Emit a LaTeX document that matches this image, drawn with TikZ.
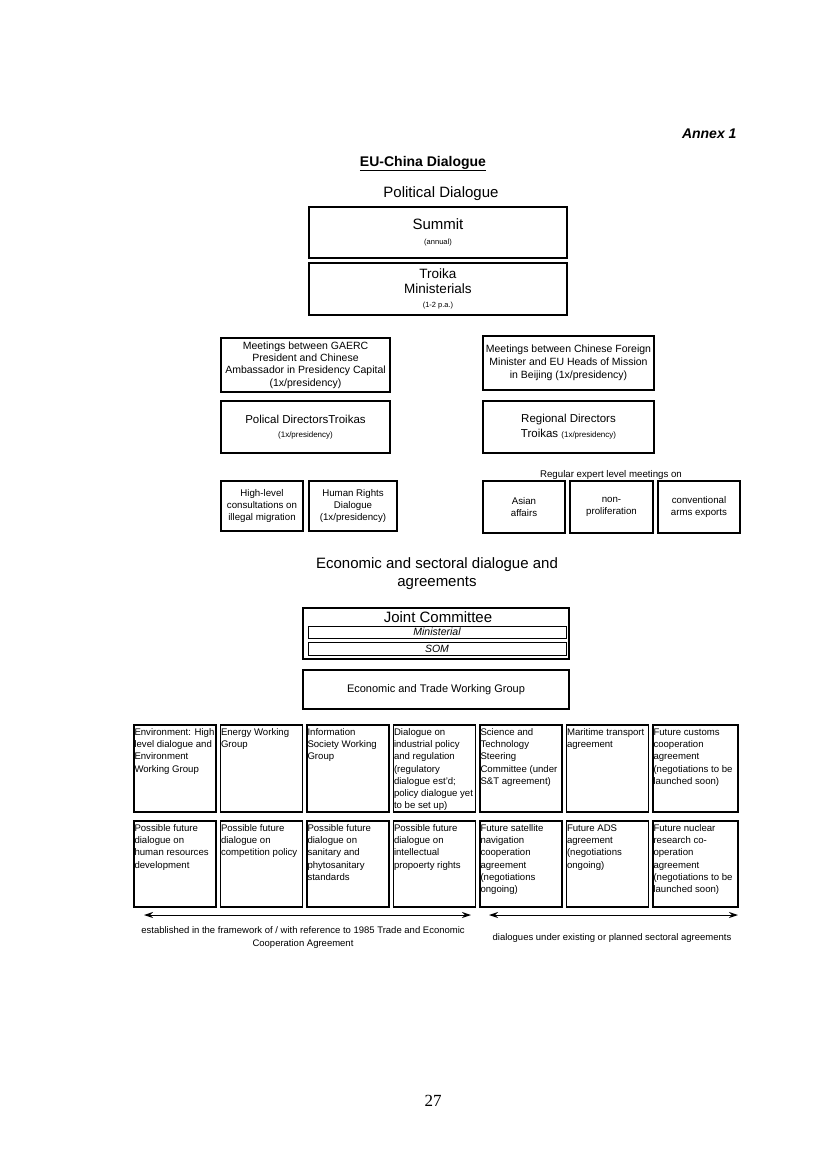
\documentclass[tikz,border=0pt]{standalone}
\usepackage{fontspec}
\setmainfont{Liberation Sans}
\newfontfamily\pnfont{Liberation Serif}
\usetikzlibrary{arrows.meta}
\newcommand\celltop{\vphantom{lb}}
\begin{document}
\begin{tikzpicture}[x=1pt,y=-1pt,
  box/.style={draw, line width=1.8pt, inner sep=0pt, align=center},
  bar/.style={draw, line width=1pt, inner sep=0pt, align=center, minimum width=258, font=\fontsize{10.5}{11}\selectfont\itshape},
  cell/.style={draw, line width=1.9pt, inner sep=0pt, minimum width=82, anchor=north west},
  celltext/.style={anchor=north west, inner xsep=1.3pt, inner ysep=4pt, align=left, font=\fontsize{9.6}{12.3}\selectfont},
  head/.style={font=\fontsize{15}{18}\selectfont, align=center},
  med/.style={font=\fontsize{10.5}{12.4}\selectfont},
  sml/.style={font=\fontsize{9.7}{12}\selectfont},
  note/.style={font=\fontsize{9.5}{13}\selectfont, align=center},
  span/.style={{Stealth[length=9pt,width=6pt]}-{Stealth[length=9pt,width=6pt]}, line width=1pt}
]
\useasboundingbox (0,0) rectangle (827,1163);

% headings
\node[anchor=east, font=\fontsize{14}{16}\selectfont\bfseries\itshape] (annex) at (740,134) {Annex 1};
\node[font=\fontsize{14}{16}\selectfont\bfseries] (title) at (423,163.5) {\underline{EU-China Dialogue}};
\node[head] (pol) at (441,194) {Political Dialogue};

% political dialogue
\node[box, minimum width=258, minimum height=51, font=\fontsize{15}{15.5}\selectfont] (summit) at (438,232.5)
  {Summit\\{\fontsize{7.5}{9}\selectfont (annual)}};
\node[box, minimum width=258, minimum height=52, font=\fontsize{13.5}{15}\selectfont] (troika) at (438,289)
  {Troika\\Ministerials\\[-1pt]{\fontsize{7.5}{10}\selectfont (1-2 p.a.)}};

\node[box, med, minimum width=169, minimum height=54] (gaerc) at (305.5,365)
  {Meetings between GAERC\\President and Chinese\\Ambassador in Presidency Capital\\(1x/presidency)};
\node[box, med, minimum width=171, minimum height=54, font=\fontsize{10.5}{13}\selectfont] (cfm) at (568.5,363)
  {Meetings between Chinese Foreign\\Minister and EU Heads of Mission\\in Beijing (1x/presidency)};

\node[box, minimum width=169, minimum height=52, font=\fontsize{11.5}{14}\selectfont] (pdt) at (305.5,427)
  {Polical DirectorsTroikas\\{\fontsize{8}{10}\selectfont (1x/presidency)}};
\node[box, minimum width=171, minimum height=52, font=\fontsize{11.5}{15}\selectfont] (rdt) at (568.5,427)
  {Regional Directors\\Troikas {\fontsize{8}{10}\selectfont (1x/presidency)}};

\node[box, sml, minimum width=82, minimum height=50] (hlc) at (262,506)
  {High-level\\consultations on\\illegal migration};
\node[box, sml, minimum width=88, minimum height=50] (hrd) at (353,506)
  {Human Rights\\Dialogue\\(1x/presidency)};

\node[font=\fontsize{9.7}{10}\selectfont] (regular) at (611,475) {Regular expert level meetings on};
\node[box, sml, minimum width=82, minimum height=52] (asian) at (524,507) {Asian\\affairs};
\node[box, sml, minimum width=83, minimum height=52] (nonp) at (611.5,507) {non-\\proliferation};
\node[box, sml, minimum width=82, minimum height=52] (conv) at (699,507) {conventional\\arms exports};

% economic
\node[head] (econ) at (437,574) {Economic and sectoral dialogue and\\agreements};
\node[box, minimum width=266, minimum height=51] (jc) at (436,633.5) {};
\node[font=\fontsize{15}{17}\selectfont] (jct) at (438,617.5) {Joint Committee};
\node[bar, minimum height=12] (mini) at (437,632) {Ministerial};
\node[bar, minimum height=13] (som) at (437,648.5) {SOM};
\node[box, minimum width=266, minimum height=39, font=\fontsize{11}{13}\selectfont] (etwg) at (436,689.5) {Economic and Trade Working Group};

% grid row 1
\node[cell, minimum height=87] (a1) at (133,724) {};
\node[celltext] at (a1.north west) {\celltop Environment: High\\level dialogue and\\Environment\\Working Group};
\node[cell, minimum height=87] (a2) at (219.5,724) {};
\node[celltext] at (a2.north west) {\celltop Energy Working\\Group};
\node[cell, minimum height=87] (a3) at (306,724) {};
\node[celltext] at (a3.north west) {\celltop Information\\Society Working\\Group};
\node[cell, minimum height=87] (a4) at (392.5,724) {};
\node[celltext] at (a4.north west) {\celltop Dialogue on\\industrial policy\\and regulation\\(regulatory\\dialogue est'd;\\policy dialogue yet\\to be set up)};
\node[cell, minimum height=87] (a5) at (479,724) {};
\node[celltext] at (a5.north west) {\celltop Science and\\Technology\\Steering\\Committee (under\\S\&T agreement)};
\node[cell, minimum height=87] (a6) at (565.5,724) {};
\node[celltext] at (a6.north west) {\celltop Maritime transport\\agreement};
\node[cell, minimum height=87, minimum width=85] (a7) at (652,724) {};
\node[celltext] at (a7.north west) {\celltop Future customs\\cooperation\\agreement\\(negotiations to be\\launched soon)};

% grid row 2
\node[cell, minimum height=86] (b1) at (133,820) {};
\node[celltext] at (b1.north west) {\celltop Possible future\\dialogue on\\human resources\\development};
\node[cell, minimum height=86] (b2) at (219.5,820) {};
\node[celltext] at (b2.north west) {\celltop Possible future\\dialogue on\\competition policy};
\node[cell, minimum height=86] (b3) at (306,820) {};
\node[celltext] at (b3.north west) {\celltop Possible future\\dialogue on\\sanitary and\\phytosanitary\\standards};
\node[cell, minimum height=86] (b4) at (392.5,820) {};
\node[celltext] at (b4.north west) {\celltop Possible future\\dialogue on\\intellectual\\propoerty rights};
\node[cell, minimum height=86] (b5) at (479,820) {};
\node[celltext] at (b5.north west) {\celltop Future satellite\\navigation\\cooperation\\agreement\\(negotiations\\ongoing)};
\node[cell, minimum height=86] (b6) at (565.5,820) {};
\node[celltext] at (b6.north west) {\celltop Future ADS\\agreement\\(negotiations\\ongoing)};
\node[cell, minimum height=86, minimum width=85] (b7) at (652,820) {};
\node[celltext] at (b7.north west) {\celltop Future nuclear\\research co-\\operation\\agreement\\(negotiations to be\\launched soon)};

% spans
\coordinate (l1) at (144,915);
\coordinate (l2) at (471,915);
\coordinate (r1) at (489,915);
\coordinate (r2) at (738,915);
\draw[span] (l1) -- (l2);
\draw[span] (r1) -- (r2);
\node[note] (lnote) at (303,937.5) {established in the framework of / with reference to 1985 Trade and Economic\\Cooperation Agreement};
\node[note] (rnote) at (612,938.5) {dialogues under existing or planned sectoral agreements};

\node[font=\fontsize{17}{20}\selectfont\pnfont] (page) at (433,1101) {27};
\end{tikzpicture}
\end{document}
